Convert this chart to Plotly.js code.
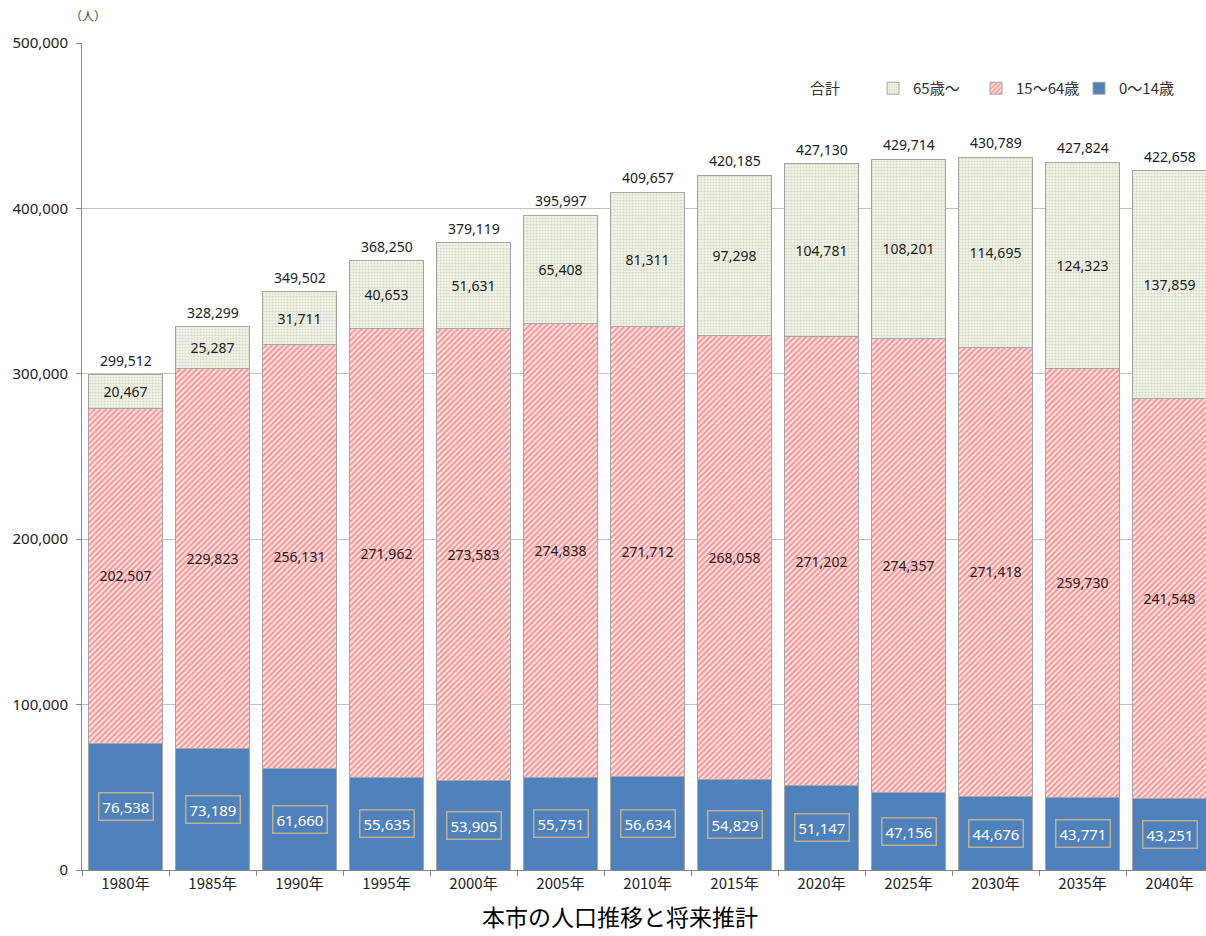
<!DOCTYPE html>
<html><head><meta charset="utf-8">
<script src="https://cdn.plot.ly/plotly-3.0.1.min.js"></script>
<style>html,body{margin:0;padding:0;overflow:hidden;background:#fff}</style>
</head><body><div id="chart"></div>
<script>
const years = ["1980年","1985年","1990年","1995年","2000年","2005年","2010年","2015年","2020年","2025年","2030年","2035年","2040年"];
const young = [76538,73189,61660,55635,53905,55751,56634,54829,51147,47156,44676,43771,43251];
const working = [202507,229823,256131,271962,273583,274838,271712,268058,271202,274357,271418,259730,241548];
const old = [20467,25287,31711,40653,51631,65408,81311,97298,104781,108201,114695,124323,137859];
const totals = [299512,328299,349502,368250,379119,395997,409657,420185,427130,429714,430789,427824,422658];
const seriesNames = ["0～14歳","15～64歳","65歳～","合計"];

const fmt = v => v.toLocaleString('en-US');
const numFont = {family:"Noto Sans, Open Sans, sans-serif", size:14, color:"#222"};
const jp = "Noto Sans CJK JP, Noto Sans, sans-serif";
const edge = {color:"#a6a6a6", width:1};
const L = 82, PW = 1131;

const traces = [
  {type:"bar", name:seriesNames[0], x:years, y:young,
   marker:{color:"#4f81bd", line:edge}, hoverinfo:"y"},
  {type:"bar", name:seriesNames[1], x:years, y:working,
   marker:{color:"#ffb3b3", line:edge, pattern:{shape:"/", fgcolor:"#ff8a8a", bgcolor:"#ffe4e4", size:4, solidity:0.45}},
   text:working.map(fmt), textposition:"inside", insidetextanchor:"middle", textangle:0,
   textfont:numFont, constraintext:"none"},
  {type:"bar", name:seriesNames[2], x:years, y:old,
   marker:{color:"#eef0e2", line:edge, pattern:{shape:".", fgcolor:"#d0d6c0", bgcolor:"#eff1e5", size:3, solidity:0.25}},
   text:old.map(fmt), textposition:"inside", insidetextanchor:"middle", textangle:0,
   textfont:numFont, constraintext:"none"},
  {type:"scatter", mode:"lines", name:seriesNames[3], x:[null], y:[null],
   line:{color:"rgba(0,0,0,0)", width:0}, hoverinfo:"skip"}
];

const annotations = [];
years.forEach((yr,i)=>{
  annotations.push({x:yr, y:totals[i], xref:"x", yref:"y", text:fmt(totals[i]),
    showarrow:false, yanchor:"bottom", yshift:3, font:numFont});
  annotations.push({x:yr, y:young[i]/2, xref:"x", yref:"y", text:fmt(young[i]),
    showarrow:false, font:{family:"Noto Sans, Open Sans, sans-serif", size:15, color:"#ffffff"},
    bordercolor:"#bfae8f", borderwidth:1.5, borderpad:3});
});
annotations.push({xref:"paper", yref:"paper", x:-0.012, y:1.02, yanchor:"bottom", xanchor:"left",
  text:"（人）", showarrow:false, font:{family:jp, size:12, color:"#444"}});
annotations.push({xref:"paper", yref:"paper", x:(620-L)/PW, y:(870-934)/827, yanchor:"bottom", xanchor:"center",
  text:"本市の人口推移と将来推計", showarrow:false, borderpad:0, font:{family:jp, size:23, color:"#000"}});

const layout = {
  width:L+PW+4, height:936,
  margin:{l:L, r:4, t:43, b:66},
  paper_bgcolor:"#fff", plot_bgcolor:"#fff",
  barmode:"stack", bargap:0.14,
  showlegend:true,
  legend:{orientation:"h", traceorder:"reversed", x:(770-L)/PW, xanchor:"left", y:0.945, yanchor:"middle",
    font:{family:jp, size:15, color:"#333"}, bgcolor:"rgba(0,0,0,0)",
    entrywidth:58, entrywidthmode:"pixels"},
  xaxis:{type:"category", showline:true, linecolor:"#888", ticks:"outside", tickson:"boundaries",
    ticklen:5, tickcolor:"#888", tickfont:{family:jp, size:15, color:"#222"}, fixedrange:true},
  yaxis:{range:[0,500000], dtick:100000, tickformat:",", showgrid:true, gridcolor:"#c4c4c4",
    showline:true, linecolor:"#888", ticks:"outside", ticklen:5, tickcolor:"#888", ticklabelstandoff:5,
    tickfont:{family:"Noto Sans, Open Sans, sans-serif", size:15, color:"#222"}, zeroline:false},
  annotations:annotations
};
Plotly.newPlot("chart", traces, layout, {displayModeBar:false, staticPlot:true});
</script></body></html>
